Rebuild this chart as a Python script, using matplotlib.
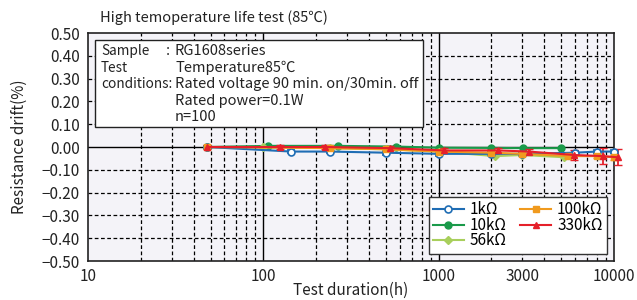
import matplotlib
matplotlib.use("Agg")
import matplotlib.pyplot as plt
from matplotlib.patches import Rectangle
from matplotlib.ticker import NullFormatter

plt.rcParams['font.family'] = ['Noto Sans CJK JP', 'DejaVu Sans']

# series data (hours, drift %)
x_1k = [48, 144, 240, 500, 1000, 2000, 3000, 6000, 8000, 10000]
y_1k = [0.0, -0.02, -0.02, -0.025, -0.03, -0.03, -0.03, -0.025, -0.02, -0.02]
e_1k = [0.005, 0.008, 0.008, 0.008, 0.008, 0.006, 0.006, 0.006, 0.005, 0.005]

x_10k = [48, 107, 265, 570, 1010, 2000, 3030, 5000]
y_10k = [0.0, 0.005, 0.005, 0.002, -0.003, -0.004, -0.005, -0.005]

x_56k = [48, 100, 240, 500, 1000, 2100, 3000, 5200]
y_56k = [0.0, 0.0, -0.005, -0.01, -0.02, -0.04, -0.035, -0.045]

x_100k = [48, 240, 500, 1000, 2000, 3000, 5500, 8000, 10000]
y_100k = [0.0, -0.005, -0.01, -0.02, -0.025, -0.03, -0.04, -0.04, -0.045]
e_100k = [0.008, 0.008, 0.008, 0.008, 0.008, 0.008, 0.01, 0.01, 0.01]

x_330k = [48, 125, 226, 525, 1070, 2170, 3270, 5900, 8650, 10500]
y_330k = [0.0, 0.0, 0.0, -0.005, -0.015, -0.015, -0.02, -0.035, -0.04, -0.045]
e_330k = [0.01, 0.01, 0.01, 0.01, 0.01, 0.01, 0.01, 0.02, 0.035, 0.035]

x_ticks = [10, 100, 1000, 3000, 10000]
x_labels = ['10', '100', '1000', '3000', '10000']
y_ticks = [0.5, 0.4, 0.3, 0.2, 0.1, 0.0, -0.1, -0.2, -0.3, -0.4, -0.5]

fig = plt.figure(figsize=(6.37, 3.0), dpi=100)
ax = fig.add_axes([88 / 637, 1 - 261 / 300, (614 - 88) / 637, (261 - 33) / 300])
ax.set_facecolor('#f4f3f8')
ax.set_xscale('log')
ax.set_xlim(10, 10000)
ax.set_ylim(-0.5, 0.5)

# grid: dashed minor decades, solid majors and zero line
minors = [m * d for d in (10, 100, 1000) for m in range(2, 10)]
for v in minors:
    ax.axvline(v, color='black', ls=(0, (3, 2)), lw=0.9, zorder=1)
for v in (100, 1000):
    ax.axvline(v, color='black', lw=1.0, zorder=1)
for v in y_ticks:
    if abs(v) < 1e-9:
        ax.axhline(v, color='black', lw=1.0, zorder=1)
    elif abs(v) < 0.49:
        ax.axhline(v, color='black', ls=(0, (3, 2)), lw=0.9, zorder=1)

blue = '#1f6db4'
green = '#1a9a4a'
lgreen = '#a8cf5c'
orange = '#f09a1e'
red = '#e5202a'

common = dict(lw=1.5, ms=5, capsize=3, elinewidth=1.3, clip_on=False, zorder=3)
h1 = ax.errorbar(x_1k, y_1k, yerr=e_1k, color=blue, marker='o', mfc='white', mew=1.2,
                 **common)
h2, = ax.plot(x_10k, y_10k, color=green, marker='o', ms=5, lw=1.5, zorder=3,
              clip_on=False)
h3, = ax.plot(x_56k, y_56k, color=lgreen, marker='D', ms=4, lw=1.5, zorder=3,
              clip_on=False)
h4 = ax.errorbar(x_100k, y_100k, yerr=e_100k, color=orange, marker='s', **common)
h5 = ax.errorbar(x_330k, y_330k, yerr=e_330k, color=red, marker='^', **common)

ax.set_xticks(x_ticks, x_labels)
ax.xaxis.set_minor_formatter(NullFormatter())
ax.set_yticks(y_ticks, [f'{v:.2f}'.replace('-', '−') if v != 0 else '0.00' for v in y_ticks])
ax.tick_params(axis='both', which='both', length=0, labelsize=11, colors='#222222')
ax.tick_params(axis='x', pad=5)
ax.tick_params(axis='y', pad=6)
for s in ax.spines.values():
    s.set_color('#222222')
    s.set_linewidth(1.2)

ax.set_xlabel('Test duration(h)', fontsize=11, color='#222222', va='center')
ax.xaxis.set_label_coords(0.5, -(290 - 261) / 228)
ax.set_ylabel('Resistance drift(%)', fontsize=11, color='#222222', va='center')
ax.yaxis.set_label_coords(-(88 - 19) / 526, 0.5)
fig.text(100 / 637, 1 - 18 / 300, 'High temoperature life test (85℃)', fontsize=10.5,
         color='#222222', va='center', ha='left')

# condition box
box = Rectangle(((95 - 88) / 526, 1 - (127 - 33) / 228), 328 / 526, 87 / 228,
                transform=ax.transAxes, facecolor='white', edgecolor='#222222', lw=1.0,
                zorder=5)
ax.add_patch(box)
rows = [('Sample', ':', 'RG1608series'),
        ('Test', '', 'Temperature85℃'),
        ('conditions:', '', 'Rated voltage 90 min. on/30min. off'),
        ('', '', 'Rated power=0.1W'),
        ('', '', 'n=100')]
for i, (a, c, b) in enumerate(rows):
    yy = 1 - (51 + 16.5 * i - 33) / 228
    ax.text((101 - 88) / 526, yy, a, transform=ax.transAxes, fontsize=9.8, va='center',
            color='#222222', zorder=6)
    ax.text((166 - 88) / 526, yy, c, transform=ax.transAxes, fontsize=10.5, va='center',
            color='#222222', zorder=6)
    ax.text((175 - 88) / 526, yy, b, transform=ax.transAxes, fontsize=10.5, va='center',
            color='#222222', zorder=6)

leg = ax.legend([h1[0], h2, h3, h4[0], h5[0]], ['1kΩ', '10kΩ', '56kΩ', '100kΩ', '330kΩ'],
                ncol=2, loc='lower right', bbox_to_anchor=((607 - 88) / 526, (261 - 254) / 228),
                borderaxespad=0, fontsize=11,
                frameon=True, fancybox=False, edgecolor='#333333', framealpha=1,
                handlelength=2.0, columnspacing=0.9, labelspacing=-0.1, borderpad=0.3,
                handletextpad=0.4)
leg.get_frame().set_linewidth(1.0)
leg.set_zorder(6)

fig.savefig('out.png', dpi=100)
